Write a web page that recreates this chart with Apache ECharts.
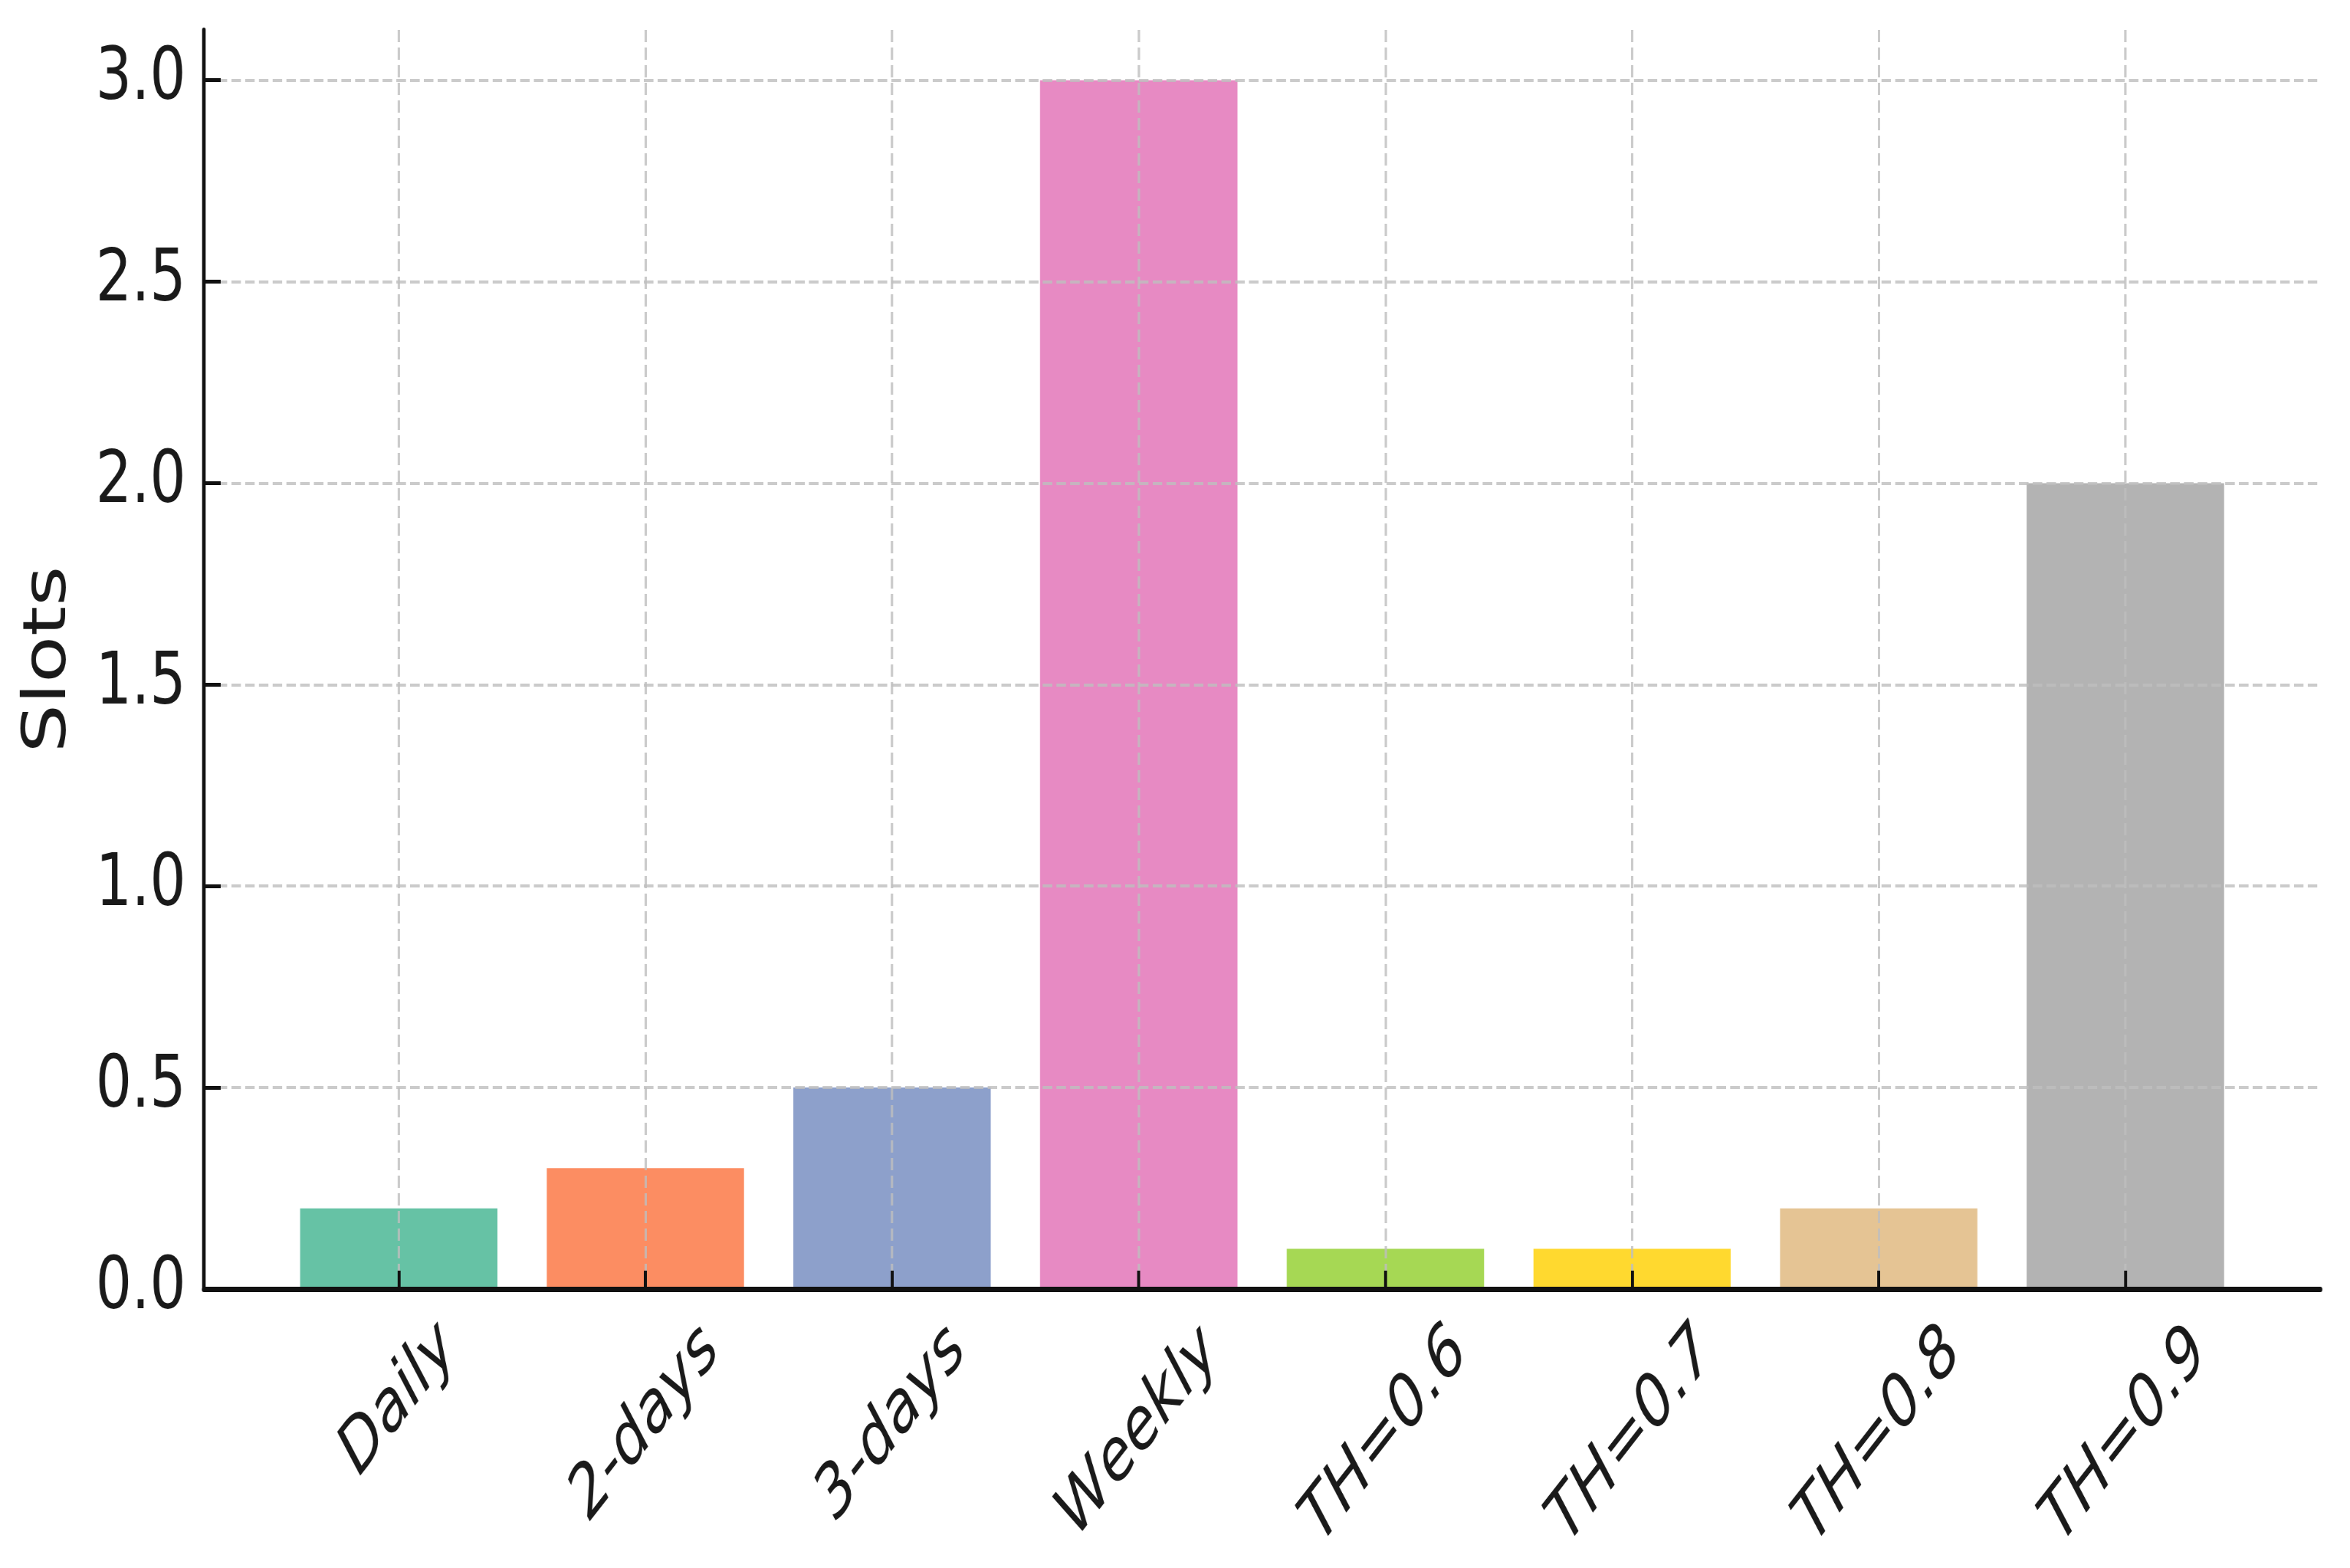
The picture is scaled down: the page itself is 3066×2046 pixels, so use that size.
<!DOCTYPE html>
<html>
<head>
<meta charset="utf-8">
<script src="https://cdn.jsdelivr.net/npm/echarts@6/dist/echarts.min.js"></script>
<style>
html, body { margin: 0; padding: 0; overflow: hidden; background: #ffffff; width: 3066px; height: 2046px; }
#chart { width: 3931px; height: 2046px; transform: scaleX(0.78); transform-origin: 0 0; }
</style>
</head>
<body>
<div id="chart"></div>
<script>
// ---- data ----
const categories = ['Daily', '2-days', '3-days', 'Weekly', 'TH=0.6', 'TH=0.7', 'TH=0.8', 'TH=0.9'];
const slots = [0.2, 0.3, 0.5, 3.0, 0.1, 0.1, 0.2, 2.0];
const yTicks = [0.0, 0.5, 1.0, 1.5, 2.0, 2.5, 3.0];
const xTicks = [0, 1, 2, 3, 4, 5, 6, 7];
const palette = ['#66c2a5', '#fc8d62', '#8da0cb', '#e78ac3', '#a6d854', '#ffd92f', '#e5c494', '#b3b3b3'];

// ---- style ----
const FONT = 'DejaVu Sans';
const XFS = 93;
const TEXT = '#1a1a1a';
const AXIS = '#111111';
const GRIDC = 'rgba(190,190,190,0.8)';
const XMIN = -0.79, XMAX = 7.79;

// matplotlib-like rotated labels: bounding boxes centred on tick and top-aligned.
const ctx = document.createElement('canvas').getContext('2d');
ctx.font = 'italic ' + XFS + 'px "' + FONT + '"';
const widths = categories.map(c => ctx.measureText(c).width);
const wMin = Math.min.apply(null, widths);

const labelAxes = categories.map((c, i) => ({
  type: 'value', min: XMIN, max: XMAX, position: 'bottom', gridIndex: 0,
  axisLine: { show: false, onZero: false },
  axisTick: { show: false },
  splitLine: { show: false },
  axisLabel: {
    customValues: [xTicks[i]],
    formatter: () => categories[i],
    rotate: 45, align: 'center', verticalAlign: 'middle',
    margin: 145 + 0.4 * (widths[i] - wMin),
    fontSize: XFS, fontStyle: 'italic', fontFamily: FONT, color: TEXT
  }
}));

const chart = echarts.init(document.getElementById('chart'), null, { renderer: 'canvas' });
chart.setOption({
  animation: false,
  backgroundColor: '#ffffff',
  grid: { left: 341, right: 50, top: 39, bottom: 364, outerBoundsMode: 'none', containLabel: false },
  xAxis: [{
    type: 'value', min: XMIN, max: XMAX, z: 3, position: 'bottom',
    axisLine: { show: true, onZero: false, lineStyle: { color: AXIS, width: 7 } },
    axisTick: { show: true, inside: true, length: 24, customValues: xTicks, lineStyle: { color: AXIS, width: 5 } },
    axisLabel: { show: false, customValues: xTicks },
    splitLine: { show: true, lineStyle: { color: GRIDC, width: 4, type: [16, 7] } }
  }].concat(labelAxes),
  yAxis: {
    type: 'value', min: 0, max: 3.125, z: 3,
    name: 'Slots', nameLocation: 'middle', nameGap: 208, nameRotate: 90, nameMoveOverlap: false,
    nameTextStyle: { fontSize: 100, fontFamily: FONT, color: TEXT },
    axisLine: { show: true, onZero: false, lineStyle: { color: AXIS, width: 6 } },
    axisTick: { show: true, inside: true, length: 28, customValues: yTicks, lineStyle: { color: AXIS, width: 5 } },
    axisLabel: {
      customValues: yTicks,
      formatter: v => Number(v).toFixed(1),
      fontSize: 95, fontFamily: FONT, color: TEXT, margin: 30
    },
    splitLine: { show: true, lineStyle: { color: GRIDC, width: 4, type: [16, 7] } }
  },
  series: [{
    type: 'bar',
    xAxisIndex: 0,
    z: 2,
    barWidth: '80%',
    data: slots.map((v, i) => ({ value: [i, v], itemStyle: { color: palette[i] } }))
  }]
});
</script>
</body>
</html>
